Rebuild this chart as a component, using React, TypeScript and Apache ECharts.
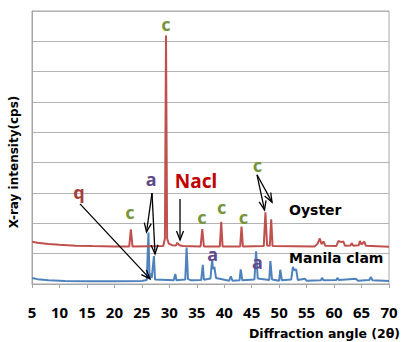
import React, { useEffect, useRef } from "react";
import * as echarts from "echarts";

// Oyster XRD pattern: [2θ, intensity]
const oyster: number[][] = [
  [5, 1390], [6, 1360], [8, 1320], [10, 1290], [13, 1265], [16, 1250], [20, 1240],
  [22.7, 1235], [23.0, 1800], [23.3, 1235], [28.9, 1250], [29.2, 1500], [29.4, 8190],
  [29.6, 1500], [29.9, 1330], [30.5, 1280], [31.2, 1265], [31.45, 1360], [31.8, 1280],
  [32.5, 1250], [35.7, 1240], [36.0, 1810], [36.3, 1240], [39.2, 1240], [39.45, 2050],
  [39.7, 1240], [42.9, 1240], [43.15, 1890], [43.4, 1240], [47.2, 1250], [47.5, 2360],
  [47.8, 1270], [48.3, 1260], [48.55, 2130], [48.8, 1250], [56.5, 1240], [57.0, 1330],
  [57.4, 1500], [57.7, 1320], [58.1, 1400], [58.4, 1260], [60.4, 1250], [60.8, 1420],
  [61.3, 1380], [61.7, 1400], [62.0, 1260], [63.0, 1270], [63.2, 1350], [63.5, 1260],
  [64.5, 1280], [64.7, 1420], [65.0, 1300], [65.5, 1400], [65.8, 1260], [70, 1230],
];

// Manila clam XRD pattern: [2θ, intensity]
const manilaClam: number[][] = [
  [5, 200], [6, 160], [8, 120], [11, 100], [15, 90], [20, 90], [25, 100], [25.9, 130],
  [26.2, 1700], [26.4, 200], [26.6, 350], [26.8, 200], [27.2, 920], [27.4, 150],
  [30.8, 120], [31.1, 330], [31.3, 120], [32.9, 150], [33.15, 1200], [33.4, 160],
  [34.0, 120], [35.8, 130], [36.1, 630], [36.3, 140], [37.5, 180], [37.8, 820],
  [37.95, 500], [38.2, 560], [38.5, 200], [40.9, 110], [41.2, 250], [41.5, 110],
  [42.8, 120], [43.0, 480], [43.3, 120], [45.5, 150], [45.8, 1080], [46.1, 180],
  [48.2, 130], [48.4, 760], [48.7, 150], [50.0, 110], [50.2, 470], [50.5, 120],
  [52.2, 150], [52.5, 560], [52.8, 450], [53.1, 480], [53.4, 130], [54.7, 170],
  [55, 110], [57.6, 120], [57.8, 200], [58.1, 120], [60.4, 130], [60.6, 200],
  [60.9, 130], [64.0, 170], [64.3, 110], [66.4, 130], [66.7, 230], [67.0, 120], [70, 100],
];

// Peak labels: [text, 2θ, intensity, colour key]
const peakLabels: [string, number, number, string][] = [
  ["c", 29.4, 8570, "c"],
  ["q", 13.56, 3030, "q"],
  ["a", 26.67, 3460, "a"],
  ["Nacl", 34.86, 3400, "n"],
  ["c", 22.84, 2360, "c"],
  ["c", 35.95, 2220, "c"],
  ["c", 39.54, 2540, "c"],
  ["c", 43.48, 2220, "c"],
  ["c", 46.06, 3920, "c"],
  ["a", 37.87, 990, "a"],
  ["a", 46.06, 710, "a"],
];

// Series names placed in the plot: [text, 2θ (left edge), intensity]
const seriesNames: [string, number, number][] = [
  ["Oyster", 51.8, 2456],
  ["Manila clam", 51.8, 841],
];

// Arrows: [from 2θ, from intensity, to 2θ, to intensity]
const arrows: [number, number, number, number][] = [
  [13.74, 2640, 26.49, 170],
  [26.85, 3000, 25.85, 1714],
  [26.85, 3000, 27.4, 990],
  [31.95, 2800, 31.95, 1450],
  [45.97, 3600, 47.33, 2440],
  [45.97, 3600, 48.7, 2700],
];

const labelColors: Record<string, string> = {
  c: "#77933C",
  a: "#5F4B8B",
  q: "#A0403B",
  n: "#C00000",
};

const FONT = '"Noto Sans", "Open Sans", sans-serif';
const WIDE = '"DejaVu Sans", "Noto Sans", sans-serif';

export default function App() {
  const ref = useRef<HTMLDivElement>(null);
  useEffect(() => {
    if (!ref.current) return;
    const chart = echarts.init(ref.current, undefined, { renderer: "svg" });
    chart.setOption({
      animation: false,
      grid: {
        left: 32,
        right: 12,
        top: 11,
        bottom: 58,
        show: true,
        borderColor: "#A6A6A6",
        borderWidth: 1,
      },
      xAxis: {
        type: "value",
        min: 5,
        max: 70,
        interval: 5,
        axisLine: { show: true, lineStyle: { color: "#A6A6A6" } },
        axisTick: { show: true, length: 4, lineStyle: { color: "#A6A6A6" } },
        splitLine: { show: false },
        axisLabel: {
          color: "#000",
          fontWeight: "bold",
          fontSize: 15,
          fontFamily: FONT,
          margin: 20,
        },
      },
      yAxis: {
        type: "value",
        min: 0,
        max: 9000,
        interval: 1000,
        axisLine: { show: true, lineStyle: { color: "#A6A6A6" } },
        axisTick: { show: false },
        axisLabel: { show: false },
        splitLine: { show: true, lineStyle: { color: "#B3B3B3", width: 1 } },
      },
      series: [
        {
          name: "Oyster",
          type: "line",
          data: oyster,
          showSymbol: false,
          lineStyle: { color: "#C0504D", width: 2 },
          z: 3,
        },
        {
          name: "Manila clam",
          type: "line",
          data: manilaClam,
          showSymbol: false,
          lineStyle: { color: "#4F81BD", width: 2 },
          z: 2,
        },
      ],
    });

    const px = (x: number, y: number) =>
      chart.convertToPixel({ gridIndex: 0 }, [x, y]) as number[];

    const graphics: any[] = [];
    for (const [t, x, y, k] of peakLabels) {
      const p = px(x, y);
      graphics.push({
        type: "text",
        x: p[0],
        y: p[1],
        z: 10,
        style: {
          text: t,
          fill: labelColors[k],
          font: `bold ${k === "n" ? 19 : 18}px ${FONT}`,
          textAlign: "center",
          textVerticalAlign: "middle",
          align: "center",
          verticalAlign: "middle",
        },
      });
    }
    for (const [t, x, y] of seriesNames) {
      const p = px(x, y);
      graphics.push({
        type: "text",
        x: p[0],
        y: p[1],
        z: 10,
        style: {
          text: t,
          fill: "#000",
          font: `bold 14px ${WIDE}`,
          textAlign: "left",
          textVerticalAlign: "middle",
          align: "left",
          verticalAlign: "middle",
        },
      });
    }
    for (const [x1, y1, x2, y2] of arrows) {
      const a = px(x1, y1);
      const b = px(x2, y2);
      const dx = b[0] - a[0];
      const dy = b[1] - a[1];
      const len = Math.sqrt(dx * dx + dy * dy);
      const ux = dx / len;
      const uy = dy / len;
      const L = 9;
      const W = 3.5;
      const bx = b[0] - ux * L;
      const by = b[1] - uy * L;
      graphics.push({
        type: "line",
        z: 11,
        shape: { x1: a[0], y1: a[1], x2: b[0], y2: b[1] },
        style: { stroke: "#000", lineWidth: 1.3 },
      });
      graphics.push({
        type: "polyline",
        z: 11,
        shape: {
          points: [
            [bx - uy * W, by + ux * W],
            [b[0], b[1]],
            [bx + uy * W, by - ux * W],
          ],
        },
        style: { stroke: "#000", lineWidth: 1.3, fill: "none" },
      });
    }
    graphics.push({
      type: "text",
      x: 400,
      y: 333,
      z: 10,
      style: {
        text: "Diffraction angle (2θ)",
        fill: "#000",
        font: `bold 12.5px ${WIDE}`,
        textAlign: "right",
        textVerticalAlign: "middle",
        align: "right",
        verticalAlign: "middle",
      },
    });
    graphics.push({
      type: "text",
      x: 14,
      y: 162,
      rotation: Math.PI / 2,
      z: 10,
      style: {
        text: "X-ray intensity(cps)",
        fill: "#000",
        font: `bold 12px ${WIDE}`,
        textAlign: "center",
        textVerticalAlign: "middle",
        align: "center",
        verticalAlign: "middle",
      },
    });
    chart.setOption({ graphic: graphics });

    return () => chart.dispose();
  }, []);

  return (
    <div
      ref={ref}
      style={{ position: "fixed", left: 0, top: 0, width: 401, height: 342, background: "#fff" }}
    />
  );
}
